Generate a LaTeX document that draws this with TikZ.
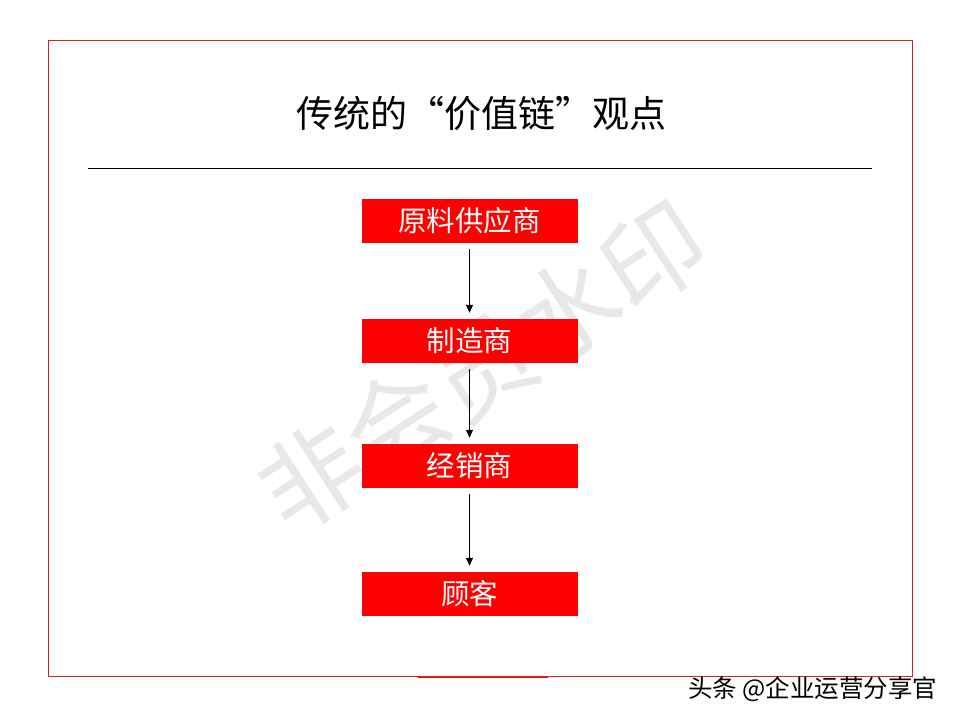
\documentclass[tikz,border=0pt]{standalone}
\usepackage{fontspec}
\newfontfamily\cjk{Noto Sans CJK SC}
\usetikzlibrary{arrows.meta}
\definecolor{framered}{RGB}{200,40,40}
\definecolor{boxred}{RGB}{255,0,0}
\tikzset{
  stagebox/.style={fill=boxred, draw=none, minimum width=216pt, minimum height=44pt, inner sep=0pt, text=white, font=\cjk\fontsize{28.5}{28.5}\selectfont},
  flowarrow/.style={draw=black, line width=0.8pt, -{Triangle[length=8pt,width=7pt]}, shorten >=6pt, shorten <=6pt}
}
\begin{document}
\begin{tikzpicture}[x=1pt,y=-1pt]
\useasboundingbox (0,0) rectangle (960,720);
\fill[white] (0,0) rectangle (960,720);
% watermark
\node[rotate=33, text=black!9, font=\cjk\fontsize{102}{102}\selectfont] (wm) at (482,366) {非会员水印};
% frame
\draw[framered, line width=1pt] (48,40) rectangle (912,676);
\draw[boxred, line width=1pt] (418,677) -- (548,677);
% title
\node[font=\cjk\fontsize{37}{37}\selectfont] (title) at (481,113) {传统的“价值链”观点};
\draw[black, line width=1pt] (88,168) -- (872,168);
% boxes
\node[stagebox] (s1) at (469.5,221) {原料供应商};
\node[stagebox] (s2) at (469.5,341) {制造商};
\node[stagebox] (s3) at (469.5,466) {经销商};
\node[stagebox] (s4) at (469.5,594) {顾客};
\draw[flowarrow] (s1) -- (s2);
\draw[flowarrow] (s2) -- (s3);
\draw[flowarrow] (s3) -- (s4);
% corner watermark
\node[anchor=east, font=\cjk\fontsize{24.5}{24.5}\selectfont] (credit) at (941,689) {头条 @企业运营分享官};
\end{tikzpicture}
\end{document}
